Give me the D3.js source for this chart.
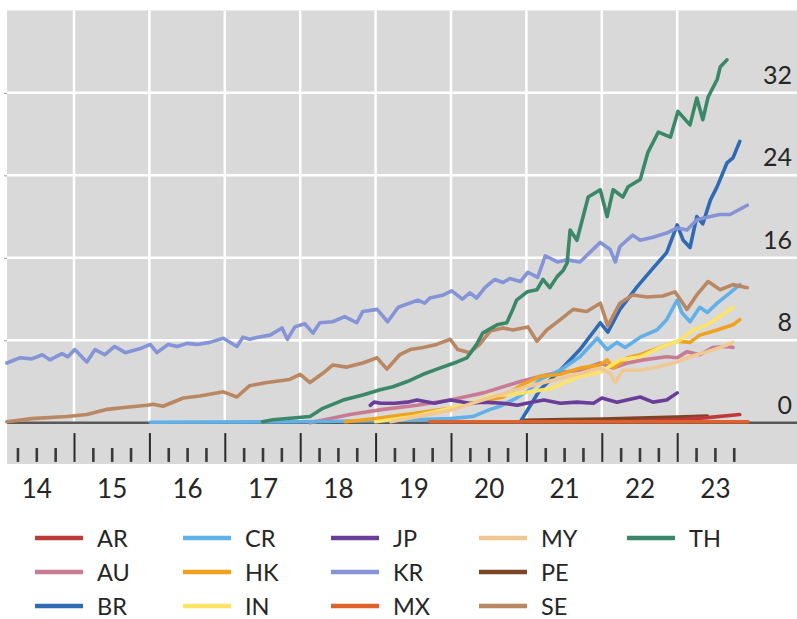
<!DOCTYPE html>
<html>
<head>
<meta charset="utf-8">
<script src="https://cdn.jsdelivr.net/npm/d3@7"></script>
<style>
  html, body { margin: 0; padding: 0; background: #ffffff; }
  svg { display: block; }
  text { font-family: Lato, "Open Sans", sans-serif; fill: #262626; }
</style>
</head>
<body>
<svg id="chart" width="797" height="619"></svg>
<script>
// ---------- data (fractional year, value) ----------
const seriesNames = ["AR","AU","BR","CR","HK","IN","JP","KR","MX","MY","PE","SE","TH"];
const seriesColors = ["#bd3a3a","#c97b93","#2f6bb5","#62b0e8","#f0a21e","#ffe366","#6a3d9a","#8494d6","#e0622a","#efc894","#7b4526","#b98862","#3a8868"];

const AR = [[2022.19,0.1],[2022.6,0.2],[2023.0,0.3],[2023.4,0.5],[2023.83,0.8]];
const AU = [[2018.13,0.0],[2018.66,0.8],[2019.10,1.3],[2019.55,1.7],[2019.99,2.2],[2020.43,2.9],[2020.65,3.4],[2020.92,4.0],[2021.18,4.5],[2021.45,4.9],[2021.71,5.1],[2021.98,5.8],[2022.15,5.3],[2022.34,5.8],[2022.55,6.1],[2022.86,6.4],[2023.00,6.3],[2023.13,6.9],[2023.30,6.6],[2023.47,7.3],[2023.66,7.4],[2023.74,7.3]];
const BR = [[2020.92,0.1],[2021.18,3.2],[2021.45,5.1],[2021.71,7.1],[2021.98,9.7],[2022.08,8.8],[2022.24,11.0],[2022.47,13.2],[2022.68,15.0],[2022.86,16.5],[2023.00,19.2],[2023.08,17.7],[2023.17,17.0],[2023.26,20.0],[2023.34,19.3],[2023.44,21.6],[2023.53,22.9],[2023.66,25.2],[2023.74,25.7],[2023.83,27.3]];
const CR = [[2016.01,0.05],[2018.0,0.1],[2019.0,0.2],[2019.6,0.3],[2019.99,0.4],[2020.29,0.6],[2020.52,1.3],[2020.65,1.6],[2020.87,2.4],[2021.04,3.2],[2021.18,4.2],[2021.45,5.1],[2021.71,6.4],[2021.94,8.2],[2022.07,7.1],[2022.20,7.8],[2022.31,7.3],[2022.51,8.3],[2022.73,9.0],[2022.86,10.0],[2023.00,11.9],[2023.06,10.7],[2023.17,9.8],[2023.30,11.2],[2023.40,10.7],[2023.53,11.6],[2023.70,12.6],[2023.83,13.4]];
const HK = [[2018.6,0.1],[2019.0,0.4],[2019.5,0.9],[2019.99,1.4],[2020.29,1.9],[2020.69,2.5],[2020.92,3.6],[2021.18,4.5],[2021.45,4.7],[2021.71,5.3],[2021.98,5.6],[2022.07,6.1],[2022.15,5.3],[2022.34,6.3],[2022.51,6.6],[2022.77,7.3],[2023.00,7.9],[2023.17,7.8],[2023.30,8.5],[2023.53,9.0],[2023.74,9.5],[2023.83,10.0]];
const IN = [[2019.0,0.1],[2019.5,0.6],[2019.99,1.4],[2020.34,2.1],[2020.52,2.6],[2020.87,2.8],[2021.31,3.3],[2021.71,4.5],[2021.98,4.9],[2022.24,6.1],[2022.51,6.4],[2022.77,7.3],[2023.04,8.0],[2023.21,9.0],[2023.40,9.5],[2023.57,10.3],[2023.74,11.2]];
const JP = [[2018.93,1.7],[2018.98,2.0],[2019.07,1.9],[2019.25,1.9],[2019.42,2.0],[2019.55,2.2],[2019.78,1.9],[2019.99,2.2],[2020.25,1.9],[2020.43,2.0],[2020.69,1.9],[2020.88,1.7],[2021.0,1.9],[2021.23,2.2],[2021.45,1.9],[2021.67,2.0],[2021.89,1.9],[2022.0,2.4],[2022.20,2.0],[2022.51,2.5],[2022.68,2.0],[2022.86,2.2],[2023.00,2.9]];
const KR = [[2014.11,5.8],[2014.28,6.3],[2014.44,6.2],[2014.58,6.6],[2014.68,6.1],[2014.84,6.7],[2014.92,6.4],[2015.01,7.1],[2015.17,5.9],[2015.28,7.1],[2015.41,6.6],[2015.54,7.4],[2015.68,6.8],[2015.88,7.2],[2016.01,7.6],[2016.10,6.8],[2016.25,7.6],[2016.37,7.4],[2016.50,7.7],[2016.63,7.6],[2016.80,7.8],[2016.98,8.2],[2017.16,7.4],[2017.24,8.3],[2017.33,8.1],[2017.44,8.3],[2017.60,8.5],[2017.76,9.2],[2017.83,8.1],[2017.93,9.3],[2018.06,9.6],[2018.17,8.7],[2018.26,9.7],[2018.43,9.8],[2018.59,10.3],[2018.75,9.7],[2018.83,10.8],[2019.02,11.0],[2019.16,9.8],[2019.30,11.2],[2019.56,11.9],[2019.65,11.6],[2019.72,12.1],[2019.90,12.4],[2020.01,12.8],[2020.15,12.0],[2020.25,12.6],[2020.34,12.1],[2020.45,13.1],[2020.58,13.9],[2020.69,13.6],[2020.78,14.0],[2020.92,13.7],[2021.02,14.6],[2021.15,14.1],[2021.25,16.2],[2021.41,15.6],[2021.54,15.8],[2021.71,15.6],[2021.84,16.5],[2021.98,17.5],[2022.11,16.8],[2022.18,15.6],[2022.24,17.1],[2022.41,18.2],[2022.51,17.7],[2022.68,18.0],[2022.86,18.4],[2023.00,18.9],[2023.13,18.7],[2023.26,19.7],[2023.44,20.0],[2023.57,20.2],[2023.70,20.2],[2023.93,21.1]];
const MX = [[2019.72,0.1],[2023.94,0.1]];
const MY = [[2019.2,0.1],[2019.99,1.2],[2020.5,2.4],[2021.0,3.5],[2021.45,4.3],[2021.98,5.3],[2022.11,4.8],[2022.18,3.9],[2022.28,5.1],[2022.51,5.1],[2022.73,5.4],[2023.00,5.9],[2023.17,6.4],[2023.40,6.9],[2023.57,7.3],[2023.74,7.8]];
const PE = [[2020.96,0.25],[2021.5,0.3],[2022.0,0.35],[2022.5,0.45],[2023.0,0.55],[2023.4,0.65]];
const SE = [[2014.11,0.1],[2014.44,0.4],[2014.91,0.6],[2015.17,0.8],[2015.44,1.3],[2015.70,1.5],[2015.97,1.7],[2016.05,1.8],[2016.18,1.6],[2016.45,2.4],[2016.67,2.6],[2016.98,3.0],[2017.16,2.5],[2017.33,3.6],[2017.56,3.9],[2017.86,4.2],[2018.00,4.7],[2018.13,3.9],[2018.30,4.8],[2018.43,5.6],[2018.62,5.4],[2018.83,5.8],[2019.02,6.3],[2019.15,5.2],[2019.32,6.6],[2019.46,7.1],[2019.63,7.3],[2019.81,7.6],[2019.99,8.1],[2020.09,7.1],[2020.25,6.8],[2020.38,7.6],[2020.52,8.9],[2020.69,9.2],[2020.82,9.0],[2021.02,9.3],[2021.14,7.9],[2021.27,9.0],[2021.45,10.0],[2021.62,11.0],[2021.80,10.8],[2021.98,11.6],[2022.08,9.4],[2022.24,11.6],[2022.41,12.4],[2022.60,12.2],[2022.81,12.3],[2022.97,12.7],[2023.13,11.0],[2023.26,12.4],[2023.41,13.7],[2023.57,12.9],[2023.74,13.4],[2023.93,13.1]];
const TH = [[2017.50,0.1],[2017.64,0.3],[2018.13,0.6],[2018.30,1.4],[2018.57,2.2],[2018.83,2.7],[2019.06,3.2],[2019.23,3.5],[2019.42,4.0],[2019.63,4.7],[2019.85,5.3],[2020.08,5.9],[2020.21,6.3],[2020.34,7.6],[2020.42,8.7],[2020.61,9.5],[2020.74,9.7],[2020.82,11.0],[2020.87,11.9],[2021.01,12.7],[2021.14,12.9],[2021.22,13.9],[2021.31,13.1],[2021.41,14.2],[2021.49,14.8],[2021.54,15.5],[2021.58,18.7],[2021.67,17.7],[2021.82,21.9],[2021.98,22.6],[2022.07,20.0],[2022.15,22.6],[2022.28,21.9],[2022.35,22.9],[2022.51,23.6],[2022.61,26.2],[2022.75,28.2],[2022.91,27.7],[2023.01,30.2],[2023.17,28.9],[2023.26,31.5],[2023.34,29.4],[2023.41,31.6],[2023.53,33.3],[2023.57,34.5],[2023.66,35.2]];

const seriesData = [AR, AU, BR, CR, HK, IN, JP, KR, MX, MY, PE, SE, TH];
// drawing order: PE beneath AR so the red band stays visible
const drawOrder = [10, 0, 1, 2, 3, 4, 5, 6, 7, 8, 9, 11, 12];

const yGridValues = [8, 16, 24, 32];
const yTickLabels = ["0", "8", "16", "24", "32"];
const yTickValues = [0, 8, 16, 24, 32];
const yearLabels = ["14","15","16","17","18","19","20","21","22","23"];
const yearStarts = [2015, 2016, 2017, 2018, 2019, 2020, 2021, 2022, 2023];

// ---------- layout ----------
const plotLeft = 7, plotRight = 797;
const x = d3.scaleLinear().domain([2014, 2024]).range([-1.4, 752.6]);
const y = d3.scaleLinear().domain([-4, 40]).range([464, 10.4]);

const svg = d3.select("#chart");

// background
svg.append("rect").attr("x", plotLeft).attr("y", y(40))
  .attr("width", plotRight - plotLeft).attr("height", y(-4) - y(40))
  .attr("fill", "#d9d9d9");

// horizontal gridlines
svg.append("g").selectAll("line").data(yGridValues).join("line")
  .attr("x1", plotLeft).attr("x2", plotRight)
  .attr("y1", d => y(d)).attr("y2", d => y(d))
  .attr("stroke", "#ffffff").attr("stroke-width", 2.5);

// vertical gridlines
svg.append("g").selectAll("line").data(yearStarts).join("line")
  .attr("x1", d => x(d)).attr("x2", d => x(d))
  .attr("y1", y(40)).attr("y2", y(0))
  .attr("stroke", "#ffffff").attr("stroke-width", 2.5);

// small left ticks
const leftAxis = svg.append("g").attr("transform", `translate(${plotLeft},0)`)
  .call(d3.axisLeft(y).tickValues(yGridValues).tickSize(3).tickFormat(""));
leftAxis.select(".domain").remove();
leftAxis.selectAll("line").attr("stroke", "#9a9a9a");

// zero axis line
svg.append("line")
  .attr("x1", plotLeft).attr("x2", plotRight)
  .attr("y1", y(0)).attr("y2", y(0))
  .attr("stroke", "#595959").attr("stroke-width", 2.5);

// series lines
const line = d3.line().x(d => x(d[0])).y(d => y(d[1]));
const linesG = svg.append("g");
drawOrder.forEach(i => {
  linesG.append("path").datum(seriesData[i])
    .attr("d", line)
    .attr("fill", "none")
    .attr("stroke", seriesColors[i])
    .attr("stroke-width", 3.6)
    .attr("stroke-linejoin", "round")
    .attr("stroke-linecap", "round");
});

// x-axis ticks: major (years) and minor (quarters)
const quarterTicks = [];
for (let yr = 2014; yr < 2024; yr++) {
  [0.25, 0.5, 0.75].forEach(q => quarterTicks.push(yr + q));
}
const majorAxis = svg.append("g").attr("transform", `translate(0,${y(-1)})`)
  .call(d3.axisBottom(x).tickValues(yearStarts).tickSize(y(-3.8) - y(-1)).tickFormat(""));
majorAxis.select(".domain").remove();
majorAxis.selectAll("line").attr("stroke", "#2a2a2a").attr("stroke-width", 2);

const minorAxis = svg.append("g").attr("transform", `translate(0,${y(-2.45)})`)
  .call(d3.axisBottom(x).tickValues(quarterTicks).tickSize(y(-3.8) - y(-2.45)).tickFormat(""));
minorAxis.select(".domain").remove();
minorAxis.selectAll("line").attr("stroke", "#3a3a3a").attr("stroke-width", 2.6);

// year labels centred in each year
const labelAxis = svg.append("g").attr("transform", "translate(0,476)")
  .call(d3.axisBottom(x)
    .tickValues(yearLabels.map((d, i) => 2014.5 + i))
    .tickSize(0).tickPadding(0)
    .tickFormat((d, i) => yearLabels[i]));
labelAxis.select(".domain").remove();
labelAxis.selectAll("text")
  .attr("font-family", "Lato, sans-serif")
  .attr("font-size", 26).attr("fill", "#262626")
  .attr("dy", "0.85em");

// right y labels
svg.append("g").selectAll("text").data(yTickValues).join("text")
  .attr("x", 792).attr("y", d => y(d) - 9)
  .attr("text-anchor", "end")
  .attr("font-size", 25)
  .text((d, i) => yTickLabels[i]);

// legend
const legend = svg.append("g");
seriesNames.forEach((name, i) => {
  const col = Math.floor(i / 3), row = i % 3;
  const lx = 35 + col * 148;
  const ly = 538 + row * 34;
  legend.append("line")
    .attr("x1", lx).attr("x2", lx + 48)
    .attr("y1", ly).attr("y2", ly)
    .attr("stroke", seriesColors[i]).attr("stroke-width", 4.5);
  legend.append("text")
    .attr("x", lx + 62).attr("y", ly + 8.5)
    .attr("font-size", 23.5)
    .text(name);
});
</script>
</body>
</html>
